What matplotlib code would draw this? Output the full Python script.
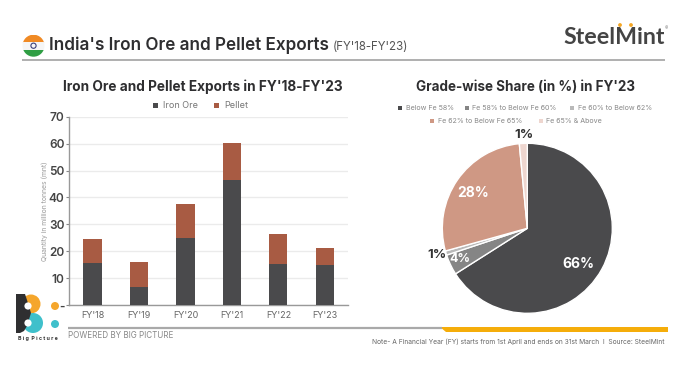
import matplotlib

matplotlib.use("Agg")
import matplotlib.pyplot as plt
from matplotlib.patches import Circle, Polygon, Rectangle

W, H = 676, 369

years = ["FY'18", "FY'19", "FY'20", "FY'21", "FY'22", "FY'23"]
iron_ore = [15.6, 6.8, 25.0, 46.3, 15.2, 14.9]
pellet = [8.9, 9.1, 12.7, 13.8, 11.2, 6.3]
y_ticks = [0, 10, 20, 30, 40, 50, 60, 70]
y_tick_labels = ["-", "10", "20", "30", "40", "50", "60", "70"]

grades = [
    "Below Fe 58%",
    "Fe 58% to Below Fe 60%",
    "Fe 60% to Below 62%",
    "Fe 62% to Below Fe 65%",
    "Fe 65% & Above",
]
shares = [66, 3.9, 0.8, 27.8, 1.5]
share_labels = ["66%", "4%", "1%", "28%", "1%"]
pie_colors = ["#4a4a4c", "#858585", "#b9b9b9", "#cf9884", "#eed6cf"]

DARK = "#4a4a4c"
RUST = "#a85b43"
FONT = "Inter"

plt.rcParams["font.family"] = [FONT, "DejaVu Sans"]

fig = plt.figure(figsize=(W / 100, H / 100), dpi=100, facecolor="white")


def px_axes(x0, y0, x1, y1, **kw):
    # pixel box, y measured from the top of the image
    return fig.add_axes([x0 / W, 1 - y1 / H, (x1 - x0) / W, (y1 - y0) / H], **kw)


# overlay in image pixels for header, footer, logos and legends
bg = px_axes(0, 0, W, H, zorder=5)
bg.set_xlim(0, W)
bg.set_ylim(H, 0)
bg.axis("off")


def tx(x, y, s, size, color="#333333", weight="normal", ha="left", **kw):
    bg.text(x, y, s, fontsize=size, color=color, fontweight=weight, ha=ha, va="center", **kw)


# stacked bars
ax = px_axes(69.3, 116.7, 348, 305)
ax.bar(years, iron_ore, width=0.395, color=DARK, zorder=3)
ax.bar(years, pellet, width=0.395, bottom=iron_ore, color=RUST, zorder=3)
ax.set_xlim(-0.5, 5.5)
ax.set_ylim(0, 70)
ax.set_yticks(y_ticks, y_tick_labels, fontsize=8.5, color="#444444", fontweight="semibold")
ax.tick_params(axis="y", length=2, width=0.8, color="#888888", pad=1.5)
ax.tick_params(axis="x", length=0, labelsize=6.5, labelcolor="#666666", pad=4.5)
ax.grid(axis="y", color="#ebebeb", linewidth=1, zorder=0)
ax.set_axisbelow(True)
for side in ["top", "right"]:
    ax.spines[side].set_visible(False)
for side in ["left", "bottom"]:
    ax.spines[side].set_color("#999999")
    ax.spines[side].set_linewidth(1)
ax.set_ylabel("Quantity in million tonnes (mnt)", fontsize=4.9, color="#999999", labelpad=0.5)
ax.patch.set_alpha(0)

# pie
pie_ax = px_axes(527.3 - 85, 228.3 - 85, 527.3 + 85, 228.3 + 85)
pie_ax.pie(
    shares,
    colors=pie_colors,
    startangle=90,
    counterclock=False,
    radius=1,
    wedgeprops={"edgecolor": "white", "linewidth": 1.0},
)
pie_ax.set_xlim(-1, 1)
pie_ax.set_ylim(-1, 1)

label_pos = [(578, 264), (460, 259), (437, 255), (473, 193), (524, 135)]
label_col = ["white", "white", "#333333", "white", "#333333"]
label_size = [10, 9, 9.5, 10, 9.5]
for s, (x, y), c, fs in zip(share_labels, label_pos, label_col, label_size):
    tx(x, y, s, fs, color=c, weight="bold", ha="center", zorder=5)

# header
tx(49, 45.5, "India's Iron Ore and Pellet Exports", 12.3, color="#2e2e30", weight="semibold")
tx(333, 46.5, "(FY'18-FY'23)", 8.3, color="#555555")
bg.plot([22, 665], [60, 60], color="#9a9a9a", lw=1.1, solid_capstyle="butt")

# flag
flag = Circle((33.5, 45.7), 11, transform=bg.transData)
for top, col in [(34.7, "#f08a24"), (42, "#f5f5f5"), (49.5, "#2f9e44")]:
    band = Rectangle((22, top), 23, 8, color=col, lw=0)
    bg.add_patch(band)
    band.set_clip_path(flag)
bg.add_patch(Circle((33.5, 45.7), 2.6, fill=False, ec="#3a3f7a", lw=0.8))

# SteelMint wordmark
tx(563.5, 37, "SteelMint", 16.7, color="#444444", weight="bold", family="Lato")
tx(666, 29, "®", 3.5, color="#777777", ha="center")
bg.add_patch(Circle((620, 25), 1.9, color="#f5a623", lw=0))
bg.add_patch(Circle((631, 25), 1.9, color="#f5a623", lw=0))

# chart titles
tx(203, 87, "Iron Ore and Pellet Exports in FY'18-FY'23", 9.8, color="#2e2e30", weight="bold", ha="center")
tx(526, 87, "Grade-wise Share (in %) in FY'23", 9.7, color="#2e2e30", weight="bold", ha="center")


def swatch(x, y, color, size):
    bg.add_patch(Rectangle((x - size / 2, y - size / 2), size, size, color=color, lw=0))


# legends
for x, name, col in [(155, "Iron Ore", DARK), (216, "Pellet", RUST)]:
    swatch(x, 105.7, col, 5)
    tx(x + 8, 105.7, name, 6.5, color="#777777")

pie_legend_x = [400, 467, 572, 432, 541]
pie_legend_y = [108, 108, 108, 121, 121]
for x, y, name, col in zip(pie_legend_x, pie_legend_y, grades, pie_colors):
    swatch(x, y, col, 4)
    tx(x + 5.5, y, name, 5.1, color="#888888")

# footer
bg.plot([68, 442], [327.5, 327.5], color="#a9a9a9", lw=1.6, solid_capstyle="butt")
bg.add_patch(Polygon([(440, 326.5), (668, 326.5), (668, 332), (446, 332)], color="#f5ad0a", lw=0))
tx(68.5, 336, "POWERED BY BIG PICTURE", 5.8, color="#888888")
tx(665, 342, "Note- A Financial Year (FY) starts from 1st April and ends on 31st March  I  Source: SteelMint",
   4.8, color="#666666", ha="right")

# Big Picture logo
bg.add_patch(Circle((31, 304), 9.5, color="#f5a62c", lw=0))
bg.add_patch(Circle((33, 323), 10, color="#3fc0cb", lw=0))
bg.add_patch(Polygon([(16, 294), (25, 294), (27, 300), (31, 313), (27, 326), (24, 331), (20, 333), (16, 333)],
                     color="#2f2f31", lw=0))
bg.add_patch(Circle((28, 306), 3.6, color="white", lw=0))
bg.add_patch(Circle((28, 323), 3.6, color="white", lw=0))
bg.add_patch(Circle((55, 306), 4, color="#f5a62c", lw=0))
bg.add_patch(Circle((55, 324), 4, color="#3fc0cb", lw=0))
tx(38, 338.5, "B i g  P i c t u r e", 3.8, color="#333333", weight="bold", ha="center")

fig.savefig("out.png", dpi=100)
